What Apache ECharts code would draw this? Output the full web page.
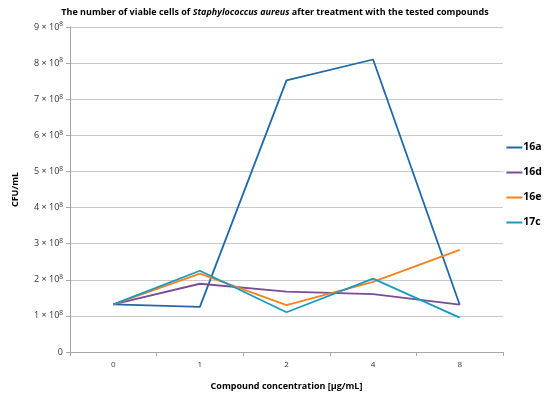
<!DOCTYPE html>
<html><head><meta charset="utf-8">
<script src="https://cdn.jsdelivr.net/npm/echarts@6/dist/echarts.min.js"></script>
<style>html,body{margin:0;padding:0;background:#fff}#c{width:550px;height:397px}</style>
</head><body><div id="c"></div>
<script>
const categories = ['0','1','2','4','8'];
const s16a = [1.32e8, 1.25e8, 7.52e8, 8.10e8, 1.31e8];
const s16d = [1.32e8, 1.89e8, 1.67e8, 1.60e8, 1.31e8];
const s16e = [1.32e8, 2.17e8, 1.30e8, 1.94e8, 2.83e8];
const s17c = [1.32e8, 2.25e8, 1.10e8, 2.03e8, 0.95e8];
const seriesNames = ['16a','16d','16e','17c'];
const colors = ['#1F68AA','#7A4C98','#F5821F','#1A9BBE'];
const FONT = 'Open Sans';
const chart = echarts.init(document.getElementById('c'));
const data = [s16a, s16d, s16e, s17c];
chart.setOption({
  animation:false,
  title:{
    text:'{b|The number of viable cells of }{i|Staphylococcus aureus}{b| after treatment with the tested compounds}',
    left:'center', top:3,
    textStyle:{rich:{
      b:{fontFamily:FONT,fontWeight:'bold',fontSize:9,color:'#000'},
      i:{fontFamily:FONT,fontWeight:'bold',fontStyle:'italic',fontSize:9,color:'#000'}
    }}
  },
  legend:{
    orient:'vertical', right:3, top:137, itemGap:14,
    itemWidth:16, itemHeight:2, icon:'rect',
    textStyle:{fontFamily:FONT,fontWeight:'bold',fontSize:10.5,color:'#000',padding:[0,0,0,-4]},
    data:seriesNames
  },
  grid:{left:70,right:47,top:27,bottom:45,containLabel:false},
  xAxis:{
    type:'category', data:categories, boundaryGap:true,
    name:'Compound concentration [µg/mL]', nameLocation:'middle', nameGap:30,
    nameTextStyle:{fontFamily:FONT,fontWeight:'bold',fontSize:9,color:'#000'},
    axisLine:{lineStyle:{color:'#A6A6A6',width:1}},
    axisTick:{show:true,alignWithLabel:false,length:4,lineStyle:{color:'#A6A6A6'}},
    axisLabel:{fontFamily:FONT,fontSize:8,color:'#333',margin:9}
  },
  yAxis:{
    type:'value', min:0, max:9e8, interval:1e8,
    name:'CFU/mL', nameLocation:'middle', nameGap:50,
    nameTextStyle:{fontFamily:FONT,fontWeight:'bold',fontSize:9,color:'#000'},
    axisLine:{show:true,lineStyle:{color:'#A6A6A6',width:1}},
    axisTick:{show:true,length:4,lineStyle:{color:'#A6A6A6'}},
    splitLine:{lineStyle:{color:'#C8C8C8',width:1}},
    axisLabel:{
      margin:7,
      formatter:function(v){ if(v===0) return '{n|0}'; return '{n|'+Math.round(v/1e8)+' × 10}{s|8}'; },
      rich:{
        n:{fontFamily:FONT,fontSize:9,color:'#333'},
        s:{fontFamily:FONT,fontSize:6.5,color:'#333',verticalAlign:'top',padding:[0,0,5,0]}
      }
    }
  },
  series: seriesNames.map((n,i)=>({
    name:n, type:'line', data:data[i], symbol:'none',
    lineStyle:{color:colors[i],width:1.8}, itemStyle:{color:colors[i]}
  }))
});
</script></body></html>
